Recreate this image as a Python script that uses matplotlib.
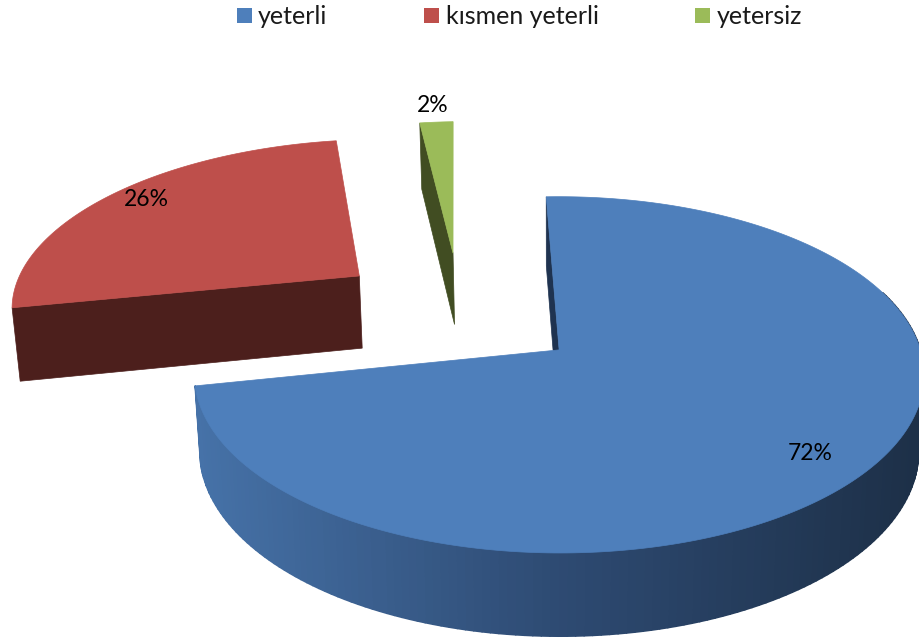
import numpy as np
import matplotlib
matplotlib.use("Agg")
import matplotlib.pyplot as plt
from matplotlib.collections import PolyCollection
from matplotlib.colors import LinearSegmentedColormap
from matplotlib.patches import Polygon, Rectangle

# data
labels = ["yeterli", "kısmen yeterli", "yetersiz"]
shares = [72.4, 25.8, 1.8]
share_text = ["72%", "26%", "2%"]

colors_top = ["#4e7fbb", "#be4f4b", "#9bbb59"]
colors_cut = ["#1f3350", "#4c1f1c", "#414d22"]

# exploded offset of every slice on the pie plane (pie radius = 1)
offsets = [(0.017, -0.005), (-0.570, 0.445), (-0.300, 0.595)]

# pie plane -> pixels
cx, cy = 553, 349
ax_x, ax_y = 361, 174.4
persp = 0.14
start = -2.2


def top_pt(u, v):
    s = 1 / (1 + persp * v)
    return cx + u * ax_x * s, cy - v * ax_y * s


def low_pt(u, v):
    s = 1 / (1 + persp * v)
    return cx + u * ax_x * s * 0.985, cy - v * ax_y * s + 25.6 + 49.5 * s


def rim(a, off, pt):
    a = np.radians(a)
    return pt(off[0] + np.sin(a), off[1] + np.cos(a))


fig = plt.figure(figsize=(9.19, 6.39), dpi=100)
ax = fig.add_axes([0, 0, 1, 1])
ax.set_xlim(0, 919)
ax.set_ylim(639, 0)
ax.axis("off")

plt.rcParams["font.family"] = "Lato"

edges = start + np.cumsum([0] + shares) * 3.6
side = LinearSegmentedColormap.from_list("side", ["#1d3048", "#2e4b73", "#4672a8"])

for i in range(3):
    a0, a1 = edges[i], edges[i + 1]
    off = offsets[i]
    apex_t = top_pt(*off)
    apex_l = low_pt(*off)

    # cut face at the start of the sweep
    face = [rim(a0, off, top_pt), apex_t, apex_l, rim(a0, off, low_pt)]
    ax.add_patch(Polygon(face, closed=True, fc=colors_cut[i], ec=colors_cut[i], lw=0.5, zorder=2))

    # outer wall of the big slice, shaded strip by strip
    if i == 0:
        angles = np.linspace(70, a1, 160)
        quads, tone = [], []
        for b0, b1 in zip(angles[:-1], angles[1:]):
            quads.append([rim(b0, off, top_pt), rim(b1, off, top_pt),
                          rim(b1, off, low_pt), rim(b0, off, low_pt)])
            tone.append((rim(b0, off, top_pt)[0] - 195) / 724)
        tone = 1 - np.clip(np.array(tone), 0, 1)
        ax.add_collection(PolyCollection(quads, array=tone, cmap=side, clim=(0, 1),
                                         edgecolors="face", linewidths=1.2, zorder=2))

    # top face
    angles = np.linspace(a0, a1, 300)
    pts = [apex_t] + [rim(b, off, top_pt) for b in angles]
    ax.add_patch(Polygon(pts, closed=True, fc=colors_top[i], ec=colors_top[i], lw=0.5, zorder=3))

text_pos = [(810, 454), (146, 199), (433, 105)]
for t, (x, y) in zip(share_text, text_pos):
    ax.text(x, y, t, fontsize=16.5, color="black", ha="center", va="center", zorder=5)

# legend
for name, col, bx, tx in zip(labels, colors_top, [237, 424, 695], [258, 446, 717]):
    ax.add_patch(Rectangle((bx, 8), 15, 15, fc=col, ec="none", zorder=5))
    ax.text(tx, 16, name, fontsize=18, color="#1a1a1a", ha="left", va="center", zorder=5)

fig.savefig("out.png", dpi=100, facecolor="white")
